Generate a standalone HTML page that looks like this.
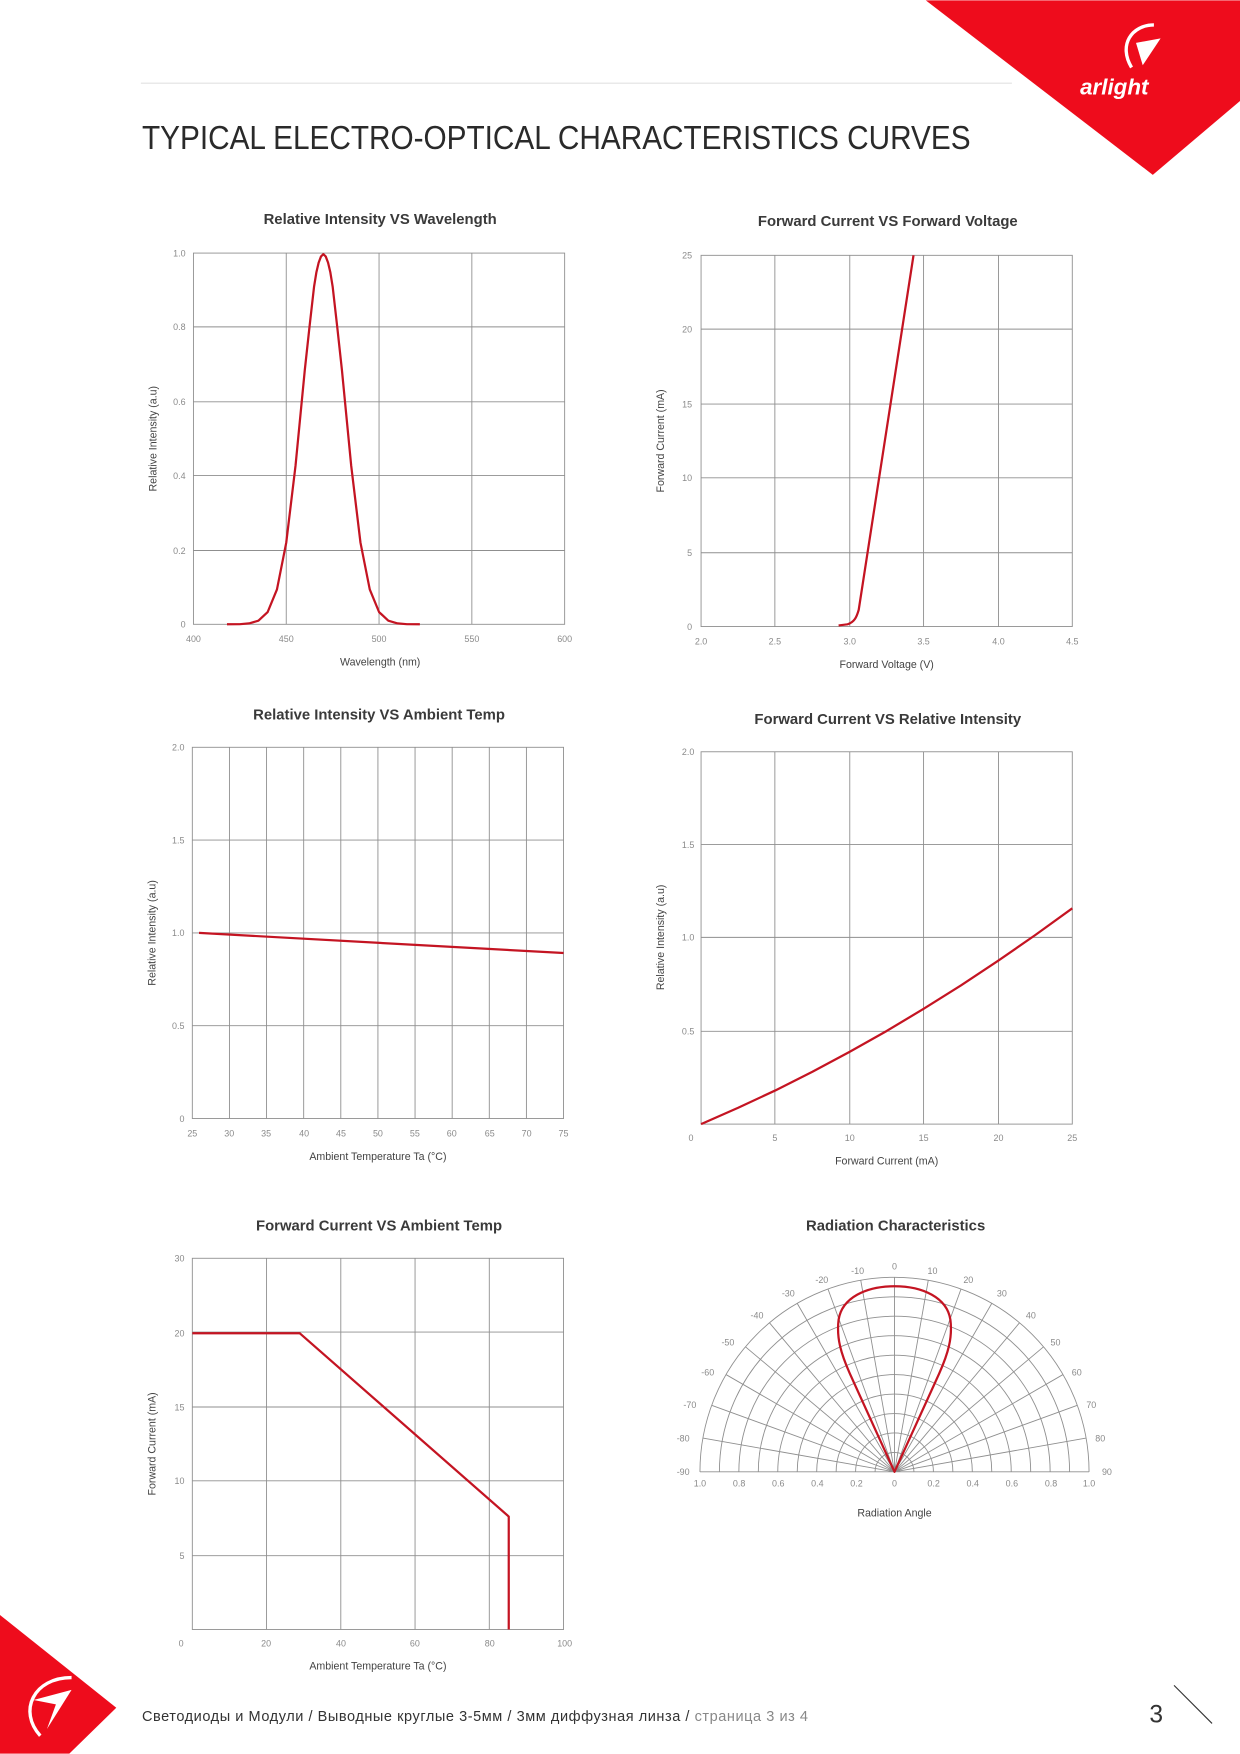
<!DOCTYPE html>
<html><head><meta charset="utf-8"><style>
html,body{margin:0;padding:0;background:#fff}
svg{display:block}
text{font-family:"Liberation Sans","DejaVu Sans",sans-serif}
.tk{font-size:8px;fill:#8a8a8a}
.ax{font-size:9.5px;fill:#444}
.tt{font-size:13.3px;fill:#3a3a3a;font-weight:bold}
.g{stroke:#8f8f8f;stroke-width:0.8;fill:none}
.c{stroke:#c41422;stroke-width:2;fill:none;stroke-linejoin:round}
</style></head><body>
<svg width="1240" height="1754" viewBox="0 0 1109 1568" xmlns="http://www.w3.org/2000/svg">
<!-- header -->
<line x1="126" y1="74" x2="905" y2="74" stroke="#e2e2e2" stroke-width="1"/>
<polygon points="828,0 1109,0 1109,90 1031,156" fill="#ee0c1c"/>
<path d="M1012,60 C1000,40 1012,22 1032,22" stroke="#fff" stroke-width="3" fill="none"/>
<path d="M1016,38 L1038,34 L1022,58 Z" fill="#fff"/>
<text x="966" y="84" font-size="20" font-weight="bold" font-style="italic" fill="#fff">arlight</text>
<text x="127" y="133" font-size="30" fill="#2a2a2a" textLength="741" lengthAdjust="spacingAndGlyphs">TYPICAL ELECTRO-OPTICAL CHARACTERISTICS CURVES</text>

<!-- Chart 1 -->
<text class="tt" x="340" y="200" text-anchor="middle">Relative Intensity VS Wavelength</text>
<rect class="g" x="173" y="226" width="332" height="332"/>
<path class="g" d="M256,226V558M339,226V558M422,226V558M173,292H505M173,359H505M173,425H505M173,492H505"/>
<g class="tk" text-anchor="end"><text x="166" y="229">1.0</text><text x="166" y="295">0.8</text><text x="166" y="362">0.6</text><text x="166" y="428">0.4</text><text x="166" y="495">0.2</text><text x="166" y="561">0</text></g>
<g class="tk" text-anchor="middle"><text x="173" y="574">400</text><text x="256" y="574">450</text><text x="339" y="574">500</text><text x="422" y="574">550</text><text x="505" y="574">600</text></g>
<text class="ax" x="340" y="595" text-anchor="middle">Wavelength (nm)</text>
<text class="ax" transform="translate(140,392) rotate(-90)" text-anchor="middle">Relative Intensity (a.u)</text>
<polyline class="c" points="203,558 214.5,557.9 222.8,557.2 231.1,554.8 239.4,547 247.7,526.8 256,485 264.3,416.2 272.6,330.6 276.8,292 280.9,255.9 283,243 285,234.5 287.1,229 289.2,227 291.3,229 293.4,234.5 295.4,243 297.5,255.9 301.6,292 305.8,330.6 314.1,416.2 322.4,485 330.7,526.8 339,547 347.3,554.8 355.6,557.2 363.9,557.9 375.5,558"/>

<!-- Chart 2 -->
<text class="tt" x="794" y="202" text-anchor="middle">Forward Current VS Forward Voltage</text>
<rect class="g" x="627" y="228" width="332" height="332"/>
<path class="g" d="M693,228V560M760,228V560M826,228V560M893,228V560M627,294H959M627,361H959M627,427H959M627,494H959"/>
<g class="tk" text-anchor="end"><text x="619" y="231">25</text><text x="619" y="297">20</text><text x="619" y="364">15</text><text x="619" y="430">10</text><text x="619" y="497">5</text><text x="619" y="563">0</text></g>
<g class="tk" text-anchor="middle"><text x="627" y="576">2.0</text><text x="693" y="576">2.5</text><text x="760" y="576">3.0</text><text x="826" y="576">3.5</text><text x="893" y="576">4.0</text><text x="959" y="576">4.5</text></g>
<text class="ax" x="793" y="597" text-anchor="middle">Forward Voltage (V)</text>
<text class="ax" transform="translate(594,394) rotate(-90)" text-anchor="middle">Forward Current (mA)</text>
<path class="c" d="M750,559 L758,558 C764,556 766,552 768,545 L817,228"/>

<!-- Chart 3 -->
<text class="tt" x="339" y="643" text-anchor="middle">Relative Intensity VS Ambient Temp</text>
<rect class="g" x="172" y="668" width="332" height="332"/>
<path class="g" d="M205.2,668V1000M238.4,668V1000M271.6,668V1000M304.8,668V1000M338,668V1000M371.2,668V1000M404.4,668V1000M437.6,668V1000M470.8,668V1000M172,751H504M172,834H504M172,917H504"/>
<g class="tk" text-anchor="end"><text x="165" y="671">2.0</text><text x="165" y="754">1.5</text><text x="165" y="837">1.0</text><text x="165" y="920">0.5</text><text x="165" y="1003">0</text></g>
<g class="tk" text-anchor="middle"><text x="172" y="1016">25</text><text x="205" y="1016">30</text><text x="238" y="1016">35</text><text x="272" y="1016">40</text><text x="305" y="1016">45</text><text x="338" y="1016">50</text><text x="371" y="1016">55</text><text x="404" y="1016">60</text><text x="438" y="1016">65</text><text x="471" y="1016">70</text><text x="504" y="1016">75</text></g>
<text class="ax" x="338" y="1037" text-anchor="middle">Ambient Temperature Ta (°C)</text>
<text class="ax" transform="translate(139,834) rotate(-90)" text-anchor="middle">Relative Intensity (a.u)</text>
<line class="c" x1="178" y1="834" x2="504" y2="852"/>

<!-- Chart 4 -->
<text class="tt" x="794" y="647" text-anchor="middle">Forward Current VS Relative Intensity</text>
<rect class="g" x="627" y="672" width="332" height="333"/>
<path class="g" d="M693,672V1005M760,672V1005M826,672V1005M893,672V1005M627,755H959M627,838H959M627,922H959"/>
<g class="tk" text-anchor="end"><text x="621" y="675">2.0</text><text x="621" y="758">1.5</text><text x="621" y="841">1.0</text><text x="621" y="925">0.5</text></g>
<g class="tk" text-anchor="middle"><text x="618" y="1020">0</text><text x="693" y="1020">5</text><text x="760" y="1020">10</text><text x="826" y="1020">15</text><text x="893" y="1020">20</text><text x="959" y="1020">25</text></g>
<text class="ax" x="793" y="1041" text-anchor="middle">Forward Current (mA)</text>
<text class="ax" transform="translate(594,838) rotate(-90)" text-anchor="middle">Relative Intensity (a.u)</text>
<polyline class="c" points="627,1005 660.2,990.4 693.4,974.9 726.6,958.2 759.8,940.4 793,921.7 826.2,901.8 859.4,881 892.6,859 925.8,836 959,812"/>

<!-- Chart 5 -->
<text class="tt" x="339" y="1100" text-anchor="middle">Forward Current VS Ambient Temp</text>
<rect class="g" x="172" y="1125" width="332" height="332"/>
<path class="g" d="M238.4,1125V1457M304.8,1125V1457M371.2,1125V1457M437.6,1125V1457M172,1191H504M172,1258H504M172,1324H504M172,1391H504"/>
<g class="tk" text-anchor="end"><text x="165" y="1128">30</text><text x="165" y="1195">20</text><text x="165" y="1261">15</text><text x="165" y="1327">10</text><text x="165" y="1394">5</text></g>
<g class="tk" text-anchor="middle"><text x="162" y="1472">0</text><text x="238" y="1472">20</text><text x="305" y="1472">40</text><text x="371" y="1472">60</text><text x="438" y="1472">80</text><text x="505" y="1472">100</text></g>
<text class="ax" x="338" y="1493" text-anchor="middle">Ambient Temperature Ta (°C)</text>
<text class="ax" transform="translate(139,1291) rotate(-90)" text-anchor="middle">Forward Current (mA)</text>
<polyline class="c" points="172,1192 268,1192 455,1356 455,1457"/>

<!-- Chart 6 polar -->
<text class="tt" x="801" y="1100" text-anchor="middle">Radiation Characteristics</text>
<g class="g" stroke-width="0.7">
<path d="M782.6,1316A17.4,17.4 0 0 1 817.4,1316M765.2,1316A34.8,34.8 0 0 1 834.8,1316M747.8,1316A52.2,52.2 0 0 1 852.2,1316M730.4,1316A69.6,69.6 0 0 1 869.6,1316M713,1316A87,87 0 0 1 887,1316M695.6,1316A104.4,104.4 0 0 1 904.4,1316M678.2,1316A121.8,121.8 0 0 1 921.8,1316M660.8,1316A139.2,139.2 0 0 1 939.2,1316M643.4,1316A156.6,156.6 0 0 1 956.6,1316M626,1316A174,174 0 0 1 974,1316"/>
<path d="M626,1316H974
M800,1316V1142
M800,1316L769.8,1144.6M800,1316L830.2,1144.6
M800,1316L740.5,1152.5M800,1316L859.5,1152.5
M800,1316L713,1165.3M800,1316L887,1165.3
M800,1316L688.2,1182.7M800,1316L911.8,1182.7
M800,1316L666.7,1204.2M800,1316L933.3,1204.2
M800,1316L649.3,1229M800,1316L950.7,1229
M800,1316L636.5,1256.5M800,1316L963.5,1256.5
M800,1316L628.6,1285.8M800,1316L971.4,1285.8"/>
</g>
<g class="tk" font-size="8.5" text-anchor="middle">
<text x="800" y="1135">0</text><text x="834" y="1139">10</text><text x="767" y="1139">-10</text>
<text x="866" y="1147">20</text><text x="735" y="1147">-20</text>
<text x="896" y="1159">30</text><text x="705" y="1159">-30</text>
<text x="922" y="1179">40</text><text x="677" y="1179">-40</text>
<text x="944" y="1203">50</text><text x="651" y="1203">-50</text>
<text x="963" y="1230">60</text><text x="633" y="1230">-60</text>
<text x="976" y="1259">70</text><text x="617" y="1259">-70</text>
<text x="984" y="1289">80</text><text x="611" y="1289">-80</text>
<text x="990" y="1319">90</text><text x="611" y="1319">-90</text>
<text x="626" y="1329">1.0</text><text x="661" y="1329">0.8</text><text x="696" y="1329">0.6</text><text x="731" y="1329">0.4</text><text x="766" y="1329">0.2</text><text x="800" y="1329">0</text>
<text x="835" y="1329">0.2</text><text x="870" y="1329">0.4</text><text x="905" y="1329">0.6</text><text x="940" y="1329">0.8</text><text x="974" y="1329">1.0</text>
</g>
<text class="ax" x="800" y="1356" text-anchor="middle">Radiation Angle</text>
<path class="c" d="M800,1316 L760,1228 C752,1210 748,1196 750,1180 C753,1160 775,1150 800,1150 C825,1150 847,1160 850,1180 C852,1196 848,1210 840,1228 Z"/>

<!-- footer -->
<polygon points="0,1444 104,1527 62,1568 0,1568" fill="#ee0c1c"/>
<path d="M36,1552 C16,1530 30,1500 64,1500" stroke="#fff" stroke-width="3" fill="none"/>
<path d="M30,1520 L64,1511 L42,1546 L50,1524 Z" fill="#fff"/>
<text x="127" y="1539" font-size="13" fill="#333" letter-spacing="0.5">Светодиоды и Модули  /  Выводные круглые 3-5мм  /  3мм диффузная линза  /  <tspan fill="#888">страница 3 из 4</tspan></text>
<text x="1028" y="1540" font-size="22" fill="#333">3</text>
<line x1="1050" y1="1507" x2="1084" y2="1541" stroke="#333" stroke-width="1"/>
</svg>
</body></html>
